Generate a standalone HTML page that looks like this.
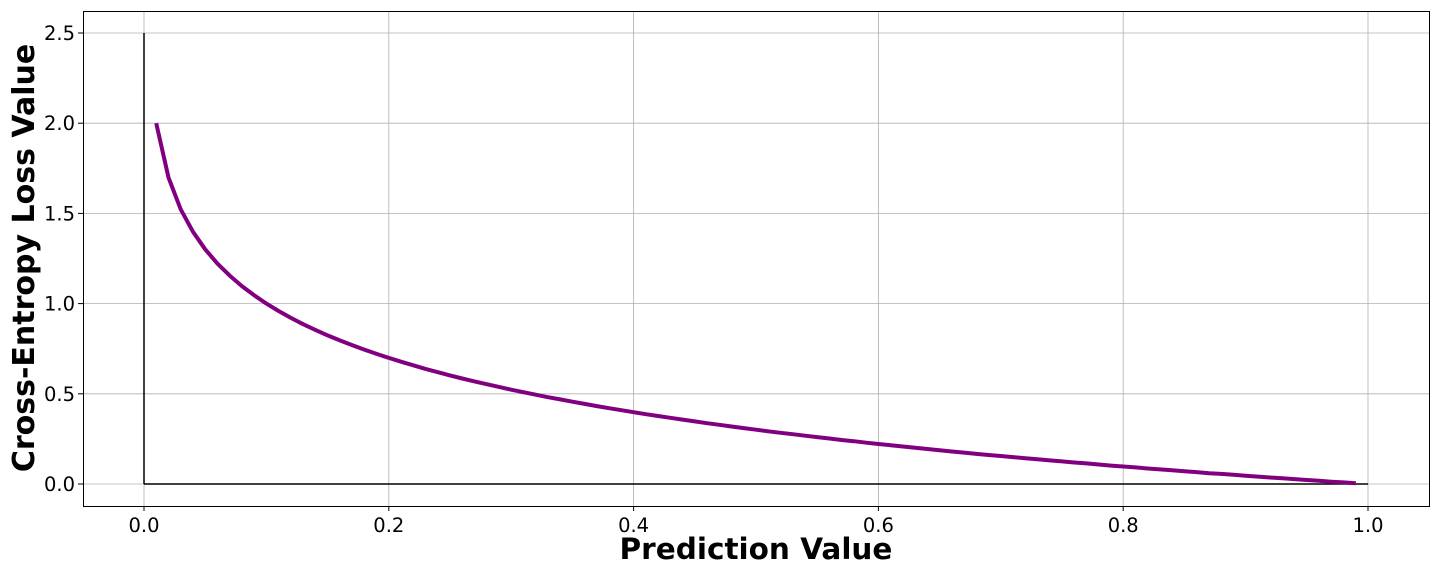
<!DOCTYPE html>
<html><head><meta charset="utf-8"><style>
html,body{margin:0;padding:0;background:#fff;}
svg{display:block;font-family:"DejaVu Sans","Liberation Sans",sans-serif;}
</style></head><body>
<svg id="chart" width="1440" height="576" viewBox="0 0 1440 576" xmlns="http://www.w3.org/2000/svg">
<g id="grid"></g>
<g id="axes"></g>
<g id="series"></g>
<rect x="83.5" y="11.5" width="1346" height="495" fill="none" stroke="#000" stroke-width="1"/>
<text x="756" y="559" text-anchor="middle" font-size="29.5" font-weight="bold">Prediction Value</text>
<text transform="translate(34,258) rotate(-90)" text-anchor="middle" font-size="30" font-weight="bold">Cross-Entropy Loss Value</text>
</svg>
<script>
const xValues = [0.01,0.02,0.03,0.04,0.05,0.06,0.07,0.08,0.09,0.10,0.11,0.12,0.13,0.14,0.15,0.16,0.17,0.18,0.19,0.20,0.21,0.22,0.23,0.24,0.25,0.26,0.27,0.28,0.29,0.30,0.31,0.32,0.33,0.34,0.35,0.36,0.37,0.38,0.39,0.40,0.41,0.42,0.43,0.44,0.45,0.46,0.47,0.48,0.49,0.50,0.51,0.52,0.53,0.54,0.55,0.56,0.57,0.58,0.59,0.60,0.61,0.62,0.63,0.64,0.65,0.66,0.67,0.68,0.69,0.70,0.71,0.72,0.73,0.74,0.75,0.76,0.77,0.78,0.79,0.80,0.81,0.82,0.83,0.84,0.85,0.86,0.87,0.88,0.89,0.90,0.91,0.92,0.93,0.94,0.95,0.96,0.97,0.98,0.99];
const lossValues = [2.000,1.699,1.523,1.398,1.301,1.222,1.155,1.097,1.046,1.000,0.959,0.921,0.886,0.854,0.824,0.796,0.770,0.745,0.721,0.699,0.678,0.658,0.638,0.620,0.602,0.585,0.569,0.553,0.538,0.523,0.509,0.495,0.481,0.469,0.456,0.444,0.432,0.420,0.409,0.398,0.387,0.377,0.367,0.357,0.347,0.337,0.328,0.319,0.310,0.301,0.292,0.284,0.276,0.268,0.260,0.252,0.244,0.237,0.229,0.222,0.215,0.208,0.201,0.194,0.187,0.180,0.174,0.167,0.161,0.155,0.149,0.143,0.137,0.131,0.125,0.119,0.114,0.108,0.102,0.097,0.092,0.086,0.081,0.076,0.071,0.066,0.060,0.056,0.051,0.046,0.041,0.036,0.032,0.027,0.022,0.018,0.013,0.009,0.004];
const xTicks = [0.0,0.2,0.4,0.6,0.8,1.0];
const xTickLabels = ["0.0","0.2","0.4","0.6","0.8","1.0"];
const yTicks = [0.0,0.5,1.0,1.5,2.0,2.5];
const yTickLabels = ["0.0","0.5","1.0","1.5","2.0","2.5"];

const NS = "http://www.w3.org/2000/svg";
function xs(v){ return 144 + v*1224; }
function ys(v){ return 484 - v*180.4; }
function mk(tag, attrs, parent){ const e=document.createElementNS(NS,tag); for(const k in attrs) e.setAttribute(k,attrs[k]); parent.appendChild(e); return e; }
const grid=document.getElementById('grid'), axes=document.getElementById('axes'), series=document.getElementById('series');

xTicks.forEach((t,i)=>{
  const gl=mk('line',{x1:xs(t),x2:xs(t),y1:11,y2:506,stroke:'#b0b0b0','stroke-width':0.8},grid);
  
  
  const tk=mk('line',{x1:xs(t),x2:xs(t),y1:506,y2:511,stroke:'#000','stroke-width':1},axes);
  
  
  const tl=mk('text',{x:xs(t),y:532,'text-anchor':'middle','font-size':19.5},axes);
  tl.textContent=xTickLabels[i];
  
  
});
yTicks.forEach((t,i)=>{
  const gl=mk('line',{x1:83,x2:1429,y1:ys(t),y2:ys(t),stroke:'#b0b0b0','stroke-width':0.8},grid);
  
  
  const tk=mk('line',{x1:78,x2:83,y1:ys(t),y2:ys(t),stroke:'#000','stroke-width':1},axes);
  
  
  const tl=mk('text',{x:75,y:ys(t)+7,'text-anchor':'end','font-size':19.5},axes);
  tl.textContent=yTickLabels[i];
  
  
});
const va=mk('line',{x1:xs(0),x2:xs(0),y1:ys(0),y2:ys(2.5),stroke:'#000','stroke-width':1.5},axes);


const ha=mk('line',{x1:xs(0),x2:xs(1),y1:ys(0),y2:ys(0),stroke:'#000','stroke-width':1.5},axes);



const d=xValues.map((x,i)=>(i?'L':'M')+xs(x).toFixed(1)+','+ys(lossValues[i]).toFixed(1)).join(' ');
const line=mk('path',{d:d,fill:'none',stroke:'#800080','stroke-width':4,'stroke-linejoin':'round'},series);


</script>
</body></html>
